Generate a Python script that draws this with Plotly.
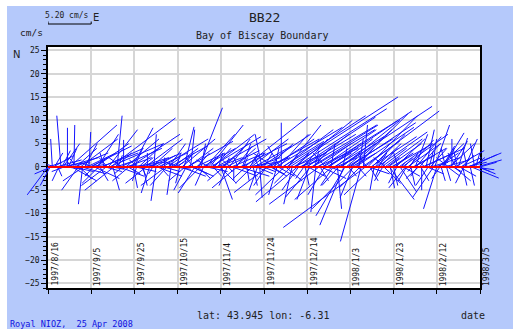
import pandas as pd
import plotly.graph_objects as go

# ---------------------------------------------------------------- data
start_date = "1997-08-16"
scale_speed = 5.20      # cm/s shown by the scale bar
scale_days = 20         # horizontal extent of that scale bar, in days

tick_days = [0, 20, 40, 60, 80, 100, 120, 140, 160, 180, 200]
tick_labels = ["1997/8/16", "1997/9/5", "1997/9/25", "1997/10/15", "1997/11/4",
               "1997/11/24", "1997/12/14", "1998/1/3", "1998/1/23", "1998/2/12",
               "1998/3/5"]

# current at 00:00 each day, east and north components (cm/s)
u_east = [
    -2.5, -1.2, -0.2, 1.0, 3.0, -0.8, -0.5, 2.0, 4.0, 0.0,
    5.7, 3.0, 0.1, 2.5, -2.0, 4.5, -0.5, 1.5, 3.5, 0.2,
    2.0, -1.0, 4.0, 2.5, 1.0, 5.0, -0.5, -3.0, 3.5, 7.8,
    0.8, 2.0, 0.6, 3.0, -1.5, 0.0, 4.0, 1.5, 6.0, 2.5,
    1.0, -0.5, 3.0, 1.5, 0.5, 4.5, 0.0, -1.0, 2.5, 0.3,
    -0.6, 3.5, 1.0, 5.5, 0.0, -2.0, 2.0, -0.5, 3.0, 1.0,
    2.0, -0.5, 4.0, 1.2, -1.5, 3.0, 0.5, 2.5, -2.0, 1.5,
    2.8, 0.5, -1.0, 3.5, 1.0, 4.0, 5.1, 2.0, 6.0, 0.5,
    1.4, 3.0, 0.5, -1.0, 2.5, 4.0, 0.0, 2.0, -0.5, 3.5,
    1.0, 7.6, 0.3, 2.0, 4.5, 0.5, 3.0, -1.0, 0.3, -0.8,
    1.0, -1.5, 3.0, 2.0, 5.0, 0.5, -1.0, 3.5, 0.0, 6.0,
    2.0, 4.0, 13.0, -1.0, 7.0, 1.5, -2.0, 9.0, 3.0, 0.5,
    5.0, -1.5, 8.0, 2.0, -0.6, 4.0, 1.0, 6.5, -2.0, 3.0,
    10.0, 0.5, -1.5, 4.5, 0.5, 2.5, 7.0, -2.9, 3.5, 1.0,
    5.0, -1.5, 6.4, 2.0, 0.5, -2.5, 0.5, -9.9, 6.0, 1.0,
    4.0, -0.5, 3.0, 1.0, 2.0, -1.0, 4.5, 1.5, 3.0, 5.0,
    0.5, 3.5, -0.5, 2.0, 5.5, 1.0, -1.0, 3.0, 0.5, 4.0,
    1.5, -0.8, 2.5, 0.0, 3.5, 1.0, -1.5, 2.0, 0.5, 1.8,
    -1.6, 3.0, 0.5, 2.5, -0.5, 1.5, 3.0, 0.0, 2.0, -1.0,
    1.1, 2.5, 0.5, 1.5, -0.5, 3.3, 3.3, 2.5, 0.5, 1.5, 2.0,
]
v_north = [
    -6.0, -4.0, 6.0, 3.0, 1.5, -3.0, 11.0, 5.0, 2.0, 8.4,
    9.0, -3.0, 9.0, 4.0, -5.0, 6.0, -8.0, 5.0, 3.0, 7.5,
    2.0, -2.0, 5.0, 7.0, -3.0, 4.0, 3.0, -4.0, 8.0, 10.5,
    -5.0, 3.0, 11.0, -2.0, 2.0, 5.8, 6.0, -1.5, 7.0, 8.4,
    4.0, -3.0, 5.0, 2.0, -4.0, 6.0, 3.0, -5.6, 4.0, 7.0,
    -7.3, 3.0, -2.0, 6.0, 2.0, -4.0, 5.0, -6.0, 4.0, 1.0,
    3.0, -3.5, 6.0, 8.6, -5.0, 4.0, 8.0, -2.0, -5.6, 3.0,
    12.7, 5.0, -4.0, 7.0, 2.0, 9.0, 7.0, 4.0, 6.0, 3.0,
    -7.0, 5.0, 2.0, -4.0, 6.0, 3.0, -3.0, 4.5, 2.0, -2.0,
    5.0, 10.7, -3.0, 3.0, 6.0, -4.0, 2.0, -5.0, -6.6, 7.0,
    3.0, -4.0, 5.0, -2.0, 6.0, 4.0, -6.0, 7.0, 9.5, 8.0,
    -3.0, 9.0, 15.0, -8.0, 10.0, 3.0, -5.0, 10.7, 6.0, -4.0,
    7.0, -7.0, 9.0, 4.0, -9.7, 5.0, -3.0, 8.0, -6.0, 3.0,
    12.0, 5.0, -4.0, 6.0, -9.0, 3.0, 10.0, -12.5, 5.0, -2.0,
    8.0, -6.6, 11.4, 4.0, 6.0, -16.0, 9.0, -13.0, 11.0, -3.0,
    7.0, -5.0, 5.0, 3.0, 4.0, -3.0, 6.0, 2.0, -7.0, 5.0,
    -4.0, 6.0, 3.0, -5.4, 7.0, 2.0, -3.0, 5.8, -4.0, 4.0,
    7.0, -2.0, 5.0, -5.0, 3.0, 8.0, -4.0, 4.0, 6.0, 9.0,
    -9.0, 5.0, -3.0, 7.3, 4.0, -2.0, 5.0, 6.0, -3.0, 3.0,
    6.2, 2.0, -4.0, 6.0, 4.0, 2.6, -2.4, -0.6, 3.0, -1.0, 1.0,
]

# current at 12:00 each day (cm/s)
u_east_noon = [
    1.5, -2.0, 2.5, -1.0, 0.5, 3.5, 1.0, -1.5, 2.0, 1.0, -0.5, 2.5, 4.0, -1.0, 1.5, 3.0, -2.5, 0.5, 2.0, 5.0,
    -1.5, 3.0, 1.0, -2.0, 4.5, 0.5, 2.0, -1.0, 6.5, 1.5, -3.5, 2.5, 0.5, 5.0, -1.0, 1.5, 3.0, -2.0, 4.0, 0.5,
    2.5, -1.0, 3.5, 0.5, 1.5, -2.5, 4.0, 1.0, -0.5, 2.5, 3.0, -1.5, 0.5, 2.0, -3.0, 1.5, 4.5, -1.0, 2.0, 0.5,
    -1.5, 3.0, 1.0, -2.0, 5.5, 0.5, 2.0, -1.0, 3.5, 1.5, -2.5, 4.0, 0.5, 2.5, -1.5, 6.0, 1.0, -0.5, 3.0, 2.0,
    1.5, -2.0, 4.0, 0.5, -1.0, 3.0, 2.5, -3.0, 1.0, 5.5, 0.5, -1.5, 3.5, 1.0, -2.0, 4.5, 2.0, -0.5, 6.0, 1.5,
    3.0, -4.0, 6.0, 1.5, -2.5, 8.0, 2.0, -1.5, 5.0, -3.5, 9.5, 1.0, -2.0, 4.0, 11.0, -5.0, 2.5, 6.5, -1.0, 8.5,
    2.0, -3.0, 7.5, 0.5, 5.0, -6.0, 3.0, 9.0, -1.5, 4.0, 1.5, -4.5, 6.0, 2.5, -2.0, 11.0, 0.5, -3.5, 5.5, 8.0,
    3.0, -5.0, 7.0, 1.0, -2.5, 4.5, 9.0, -1.0, 2.5, 5.5, -3.5, 1.5, 6.0, -0.5, 3.0, 2.0, -1.5, 4.0, 0.5, 2.5,
    1.5, -1.0, 3.5, 0.5, 2.0, -2.0, 4.0, 1.0, -0.5, 2.5, 3.0, -1.5, 1.0, 5.0, -1.0, 2.0, 0.5, 3.5, -2.5, 1.5,
    2.5, -1.0, 1.5, 3.0, 0.5, -1.5, 2.0, 1.0, 3.5, -0.5, 2.0, 1.5, -1.0, 2.5, 4.0, 0.5, 1.5, -0.5, 3.0, 2.0,
]
v_north_noon = [
    1.0, -1.5, 2.5, 0.5, -2.0, 1.0, 3.5, -1.0, -0.5, 4.0, 1.5, -1.0, 3.0, 2.0, -2.5, -1.5, -3.0, 1.0, 0.5, 4.5,
    1.0, -2.5, 1.5, -3.5, 3.0, 0.5, -1.0, 2.0, 5.0, -0.5, -5.0, 1.5, 2.5, 4.0, -1.5, 0.5, 2.0, -3.0, 1.0, -4.5,
    -1.0, 1.5, 2.0, -2.0, 0.5, -3.5, 3.0, 1.0, -1.5, 2.5, -2.0, 0.5, 1.0, -1.0, -4.0, 2.0, 4.5, 1.5, -0.5, 3.0,
    1.0, -2.0, 2.5, -3.0, 5.5, 1.0, -1.5, 2.0, 3.0, -2.5, -4.5, 4.0, 0.5, -1.0, 1.5, 6.5, -2.0, 1.0, 2.0, -3.5,
    2.0, -3.0, 3.5, -1.0, 1.5, -2.0, 4.0, -4.5, 0.5, 5.0, 2.0, -2.5, 1.0, 3.0, -3.5, 4.5, -1.5, 2.0, 7.0, -1.0,
    2.0, -5.5, 6.0, -1.5, 3.0, 8.5, -2.0, 4.5, 5.5, -6.0, 11.0, 2.5, -3.5, 3.0, 12.5, -7.5, 1.5, 7.0, -2.5, 9.0,
    -2.0, -6.5, 8.0, 3.5, 4.0, -8.0, -2.5, 10.0, 3.0, 5.0, -1.0, -7.0, 6.5, 2.0, -4.0, 13.0, 4.0, -10.5, 6.0, 9.5,
    3.0, -9.0, 8.5, -2.0, -4.5, 5.5, 12.0, 2.5, -1.5, 6.5, -6.0, 3.5, 7.5, -2.0, 4.0, -3.5, 2.0, 5.0, -4.5, 3.0,
    2.0, -3.5, 4.5, 1.0, -2.0, -4.5, 5.0, 3.0, -1.0, 2.5, 6.5, -2.5, -3.0, 4.0, 1.5, -1.5, 3.5, 2.0, -6.5, 1.0,
    3.0, -2.5, 4.5, 1.5, -3.0, 2.0, 5.5, -1.0, 3.5, 4.0, -2.0, 2.5, -3.5, 1.0, 3.0, -4.0, 2.0, 5.0, 1.5, -1.5,
]

# ---------------------------------------------------------------- layout constants
W, H = 513, 329
ML, MR, MT, MB = 10, 5, 47, 41          # outer plotting area (sticks may overflow the frame)
FRAME_L, FRAME_R = 48, 480              # framed axes box, in pixels
Y_RANGE = [-26, 25.75]

BLUE_BG = "rgb(181,201,251)"
GRID = "#d6d6d6"
MONO = "DejaVu Sans Mono"

plot_w = W - ML - MR
plot_h = H - MT - MB


def px_x(px):
    return (px - ML) / plot_w


def px_y(py):
    return (H - MB - py) / plot_h


t0 = pd.Timestamp(start_date)


def day(d):
    return (t0 + pd.Timedelta(days=d)).round("min").strftime("%Y-%m-%d %H:%M")


days_span = tick_days[-1] - tick_days[0]
px_per_day = (FRAME_R - FRAME_L) / days_span
x2_lo = -(FRAME_L - ML) / px_per_day
x2_hi = days_span + (W - MR - FRAME_R) / px_per_day

# ---------------------------------------------------------------- sticks
days_per_speed = scale_days / scale_speed
samples = [(float(d), u, v) for d, (u, v) in enumerate(zip(u_east, v_north))]
samples += [(d + 0.5, u, v) for d, (u, v) in enumerate(zip(u_east_noon, v_north_noon))]
samples.sort(key=lambda s: s[0])

xs, ys = [], []
for t, u, v in samples:
    xs += [day(t), day(t + u * days_per_speed), None]
    ys += [0, v, None]

fig = go.Figure()
fig.add_trace(go.Scatter(
    x=xs, y=ys, mode="lines", xaxis="x2", yaxis="y2",
    line=dict(color="rgb(20,20,255)", width=1), hoverinfo="skip", showlegend=False,
))
fig.add_trace(go.Scatter(
    x=[day(tick_days[0]), day(tick_days[-1])], y=[0, 0], mode="lines",
    xaxis="x2", yaxis="y2", line=dict(color="#ff0000", width=2),
    hoverinfo="skip", showlegend=False,
))

# ---------------------------------------------------------------- shapes
shapes = [
    # white strips along the top and left edges of the page
    dict(type="rect", xref="paper", yref="paper", x0=px_x(0), x1=px_x(W),
         y0=px_y(6), y1=px_y(0), fillcolor="white", line_width=0, layer="below"),
    dict(type="rect", xref="paper", yref="paper", x0=px_x(0), x1=px_x(7),
         y0=px_y(H), y1=px_y(0), fillcolor="white", line_width=0, layer="below"),
    # white plotting box
    dict(type="rect", xref="x", yref="y", x0=day(tick_days[0]), x1=day(tick_days[-1]),
         y0=Y_RANGE[0], y1=Y_RANGE[1], fillcolor="white", line_width=0, layer="below"),
    # velocity scale bar
    dict(type="line", xref="x", yref="paper", x0=day(0), x1=day(scale_days),
         y0=px_y(24), y1=px_y(24), line=dict(color="black", width=1)),
    dict(type="line", xref="x", yref="paper", x0=day(0), x1=day(0),
         y0=px_y(24), y1=px_y(21.5), line=dict(color="black", width=1)),
    dict(type="line", xref="x", yref="paper", x0=day(scale_days), x1=day(scale_days),
         y0=px_y(24), y1=px_y(21.5), line=dict(color="black", width=1)),
]

# ---------------------------------------------------------------- annotations
ann = []
for d, lab in zip(tick_days, tick_labels):
    ann.append(dict(x=day(d), y=0, xref="x", yref="paper", text=lab, textangle=-90,
                    xanchor="left", yanchor="bottom", showarrow=False,
                    font=dict(family=MONO, size=8, color="#111")))


def txt(text, px, py, size, family=MONO, color="#222", xanchor="center"):
    ann.append(dict(x=px_x(px), y=px_y(py), xref="paper", yref="paper", text=text,
                    xanchor=xanchor, yanchor="middle", showarrow=False,
                    font=dict(family=family, size=size, color=color)))


txt("BB22", 264, 18, 13)
txt("Bay of Biscay Boundary", 262, 36, 10)
txt("5.20 cm/s", 67, 15, 8)
txt("E", 96, 18, 10, family="DejaVu Sans")
txt("cm/s", 31, 32, 9.5)
txt("N", 16, 54, 10, family="DejaVu Sans")
txt("lat: 43.945 lon: -6.31", 263, 315, 10)
txt("date", 473, 315, 10)
txt("Royal NIOZ,  25 Apr 2008", 8, 324, 8.5, color="#1010e0", xanchor="left")

fig.update_layout(
    width=W, height=H,
    margin=dict(l=ML, r=MR, t=MT, b=MB, pad=0),
    paper_bgcolor=BLUE_BG, plot_bgcolor="rgba(0,0,0,0)",
    showlegend=False,
    shapes=shapes, annotations=ann,
    xaxis=dict(
        type="date", domain=[px_x(FRAME_L), px_x(FRAME_R)], anchor="y",
        range=[day(tick_days[0]), day(tick_days[-1])],
        tickmode="array", tickvals=[day(d) for d in tick_days], showticklabels=False,
        ticks="outside", ticklen=4, tickcolor="black", tickwidth=1,
        showgrid=True, gridcolor=GRID, gridwidth=1.5, zeroline=False,
        showline=True, linecolor="black", linewidth=1.5, mirror=True,
    ),
    yaxis=dict(
        type="linear", domain=[0, 1], anchor="x", range=Y_RANGE,
        tickmode="linear", tick0=0, dtick=5,
        ticks="outside", ticklen=5, tickcolor="black", tickwidth=1,
        minor=dict(dtick=1, tick0=0, ticks="outside", ticklen=3, tickcolor="black",
                   showgrid=False),
        tickfont=dict(family=MONO, size=8, color="#111"),
        showgrid=True, gridcolor=GRID, gridwidth=1.5, zeroline=False,
        showline=True, linecolor="black", linewidth=1.5, mirror=True,
    ),
    xaxis2=dict(
        type="date", domain=[0, 1], anchor="y2",
        range=[day(x2_lo), day(x2_hi)], visible=False,
    ),
    yaxis2=dict(type="linear", domain=[0, 1], anchor="x2", range=Y_RANGE, visible=False),
)

fig.write_html("out.html")
